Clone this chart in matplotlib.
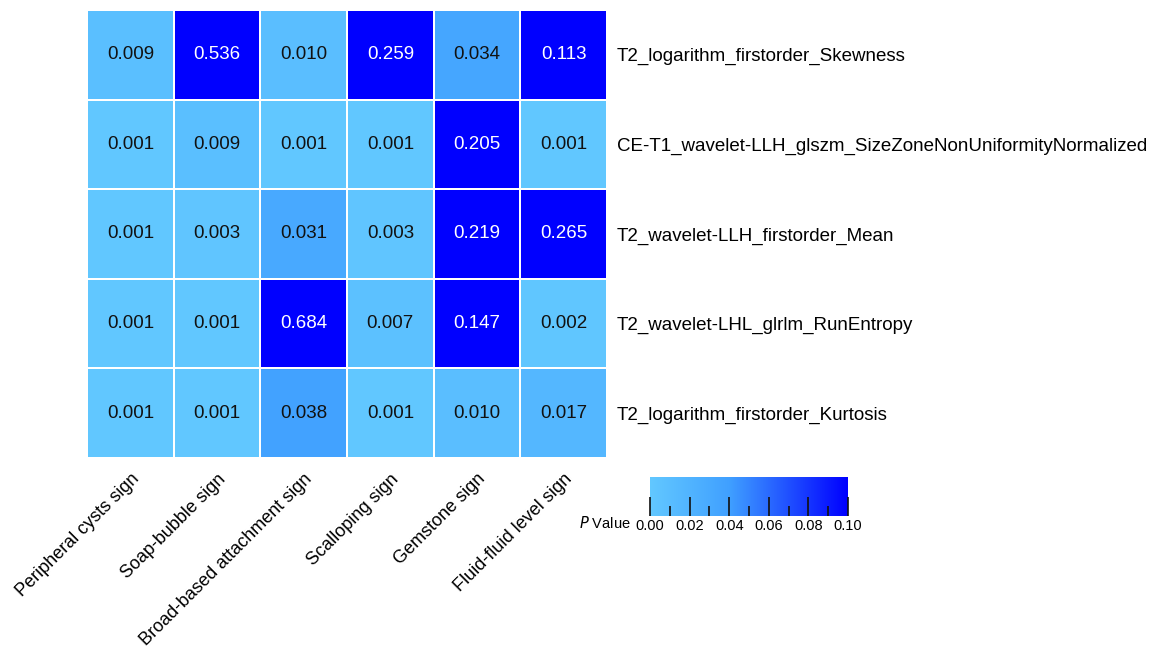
import matplotlib.pyplot as plt
import numpy as np
from matplotlib.colors import LinearSegmentedColormap, Normalize
from matplotlib.ticker import MultipleLocator

plt.rcParams['font.family'] = ['Liberation Sans', 'DejaVu Sans']

signs = ["Peripheral cysts sign", "Soap-bubble sign", "Broad-based attachment sign",
         "Scalloping sign", "Gemstone sign", "Fluid-fluid level sign"]
features = ["T2_logarithm_firstorder_Skewness",
            "CE-T1_wavelet-LLH_glszm_SizeZoneNonUniformityNormalized",
            "T2_wavelet-LLH_firstorder_Mean",
            "T2_wavelet-LHL_glrlm_RunEntropy",
            "T2_logarithm_firstorder_Kurtosis"]
p_skewness = [0.009, 0.536, 0.010, 0.259, 0.034, 0.113]
p_sznu = [0.001, 0.009, 0.001, 0.001, 0.205, 0.001]
p_mean = [0.001, 0.003, 0.031, 0.003, 0.219, 0.265]
p_runentropy = [0.001, 0.001, 0.684, 0.007, 0.147, 0.002]
p_kurtosis = [0.001, 0.001, 0.038, 0.001, 0.010, 0.017]

pvals = np.array([p_skewness, p_sznu, p_mean, p_runentropy, p_kurtosis])

cmap = LinearSegmentedColormap.from_list(
    "pblue", [(0.0, "#62C8FF"), (0.4, "#40A0FF"), (1.0, "#0000FF")])
norm = Normalize(vmin=0.0, vmax=0.1, clip=True)

fig = plt.figure(figsize=(11.51, 6.51), dpi=100)
ax = fig.add_axes([87 / 1151, 1 - 458 / 651, 520 / 1151, 448 / 651])

nr, nc = pvals.shape
ax.pcolormesh(np.arange(nc + 1), np.arange(nr + 1), pvals, cmap=cmap, norm=norm,
              edgecolor="white", linewidth=1.2)
ax.set_xlim(0, nc)
ax.set_ylim(nr, 0)

for i in range(nr):
    for j in range(nc):
        v = pvals[i, j]
        ax.text(j + 0.5, i + 0.5, f"{v:.3f}", ha="center", va="center",
                fontsize=13.5, color="white" if v > 0.1 else "#111111")

ax.set_xticks(np.arange(nc) + 0.5)
ax.set_xticklabels(signs, rotation=45, ha="right", rotation_mode="anchor", fontsize=13)
ax.set_yticks(np.arange(nr) + 0.5)
ax.set_yticklabels(features, fontsize=13.5)
ax.yaxis.tick_right()
ax.tick_params(axis="y", length=0, pad=7)
ax.tick_params(axis="x", length=0, pad=9)
for s in ax.spines.values():
    s.set_visible(False)

# colour key
cax = fig.add_axes([650 / 1151, 1 - 516 / 651, 198 / 1151, 39 / 651])
grad = np.linspace(0, 0.1, 256).reshape(1, -1)
cax.imshow(grad, aspect="auto", cmap=cmap, norm=norm, extent=[0, 0.1, 0, 1])
cax.set_yticks([])
cax.xaxis.set_major_locator(MultipleLocator(0.02))
cax.xaxis.set_minor_locator(MultipleLocator(0.01))
cax.set_xticklabels([f"{t:.2f}" for t in cax.get_xticks()])
cax.tick_params(axis="x", which="major", direction="in", length=14, width=1.2,
                color="#111111", labelsize=10.5, pad=2)
cax.tick_params(axis="x", which="minor", direction="in", length=7, width=1.2,
                color="#111111")
cax.set_xlim(0, 0.1)
for s in cax.spines.values():
    s.set_visible(False)
fig.text(631 / 1151, 1 - 523 / 651, r"$\it{P}$ Value", ha="right", va="center",
         fontsize=10.5)

fig.savefig("out.png", dpi=100, facecolor="white")
